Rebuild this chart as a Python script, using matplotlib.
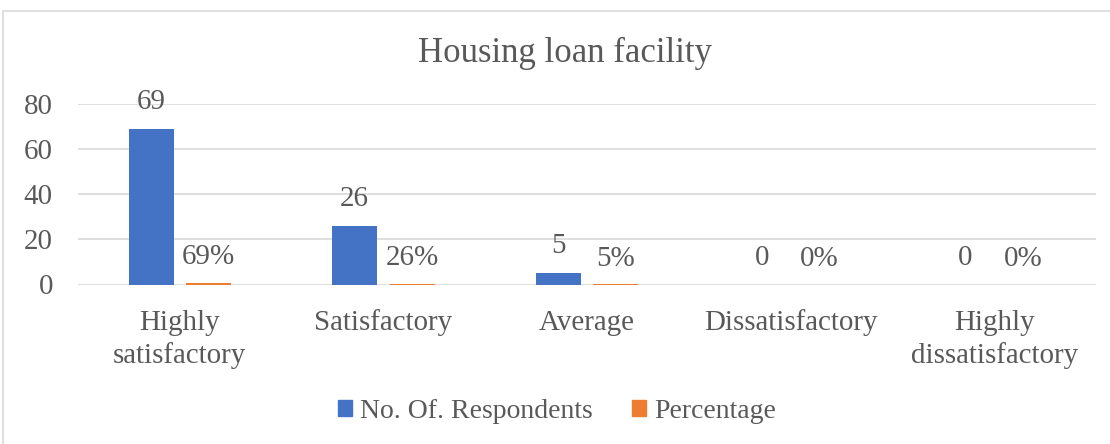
import matplotlib
matplotlib.use("Agg")
import matplotlib.pyplot as plt
from matplotlib.patches import Rectangle, Patch
import numpy as np

categories = ["Highly\nsatisfactory", "Satisfactory", "Average", "Dissatisfactory", "Highly\ndissatisfactory"]
respondents = [69, 26, 5, 0, 0]
percentage = [0.69, 0.26, 0.05, 0.0, 0.0]
percentage_labels = ["69%", "26%", "5%", "0%", "0%"]
yticks = [0, 20, 40, 60, 80]
title = "Housing loan facility"
series_names = ["No. Of. Respondents", "Percentage"]

BLUE = "#4472C4"
ORANGE = "#ED7D31"
TEXT = "#595959"
GRID = "#D9D9D9"
FONT = "Liberation Serif"
FS = 20.9
LFS = 20.0

plt.rcParams['font.family'] = [FONT, 'DejaVu Serif']

W, H = 1110, 444
fig = plt.figure(figsize=(W / 100, H / 100), dpi=100)

# chart border (only top/left visible in reference)
fig.patches.append(Rectangle((3 / W, -0.2), 1.5, 1 - 11 / H + 0.2, transform=fig.transFigure,
                             fill=False, edgecolor=GRID, linewidth=1.2))

left, right = 78 / W, 1096 / W
bottom, top = 1 - 284.5 / H, 1 - 104 / H
ax = fig.add_axes([left, bottom, right - left, top - bottom])

x = np.arange(len(categories))
bw = 0.221
off = 0.141
b1 = ax.bar(x - off, respondents, bw, color=BLUE, zorder=3)
b2 = ax.bar(x + off, percentage, bw, color=ORANGE, zorder=3)

for rect, v in zip(b1, respondents):
    ax.annotate(f"{v}", (rect.get_x() + rect.get_width() / 2, rect.get_height()),
                xytext=(0, 10), textcoords="offset points", ha="center", va="bottom",
                fontsize=FS, color=TEXT, family=FONT)
for rect, lab in zip(b2, percentage_labels):
    ax.annotate(lab, (rect.get_x() + rect.get_width() / 2, rect.get_height()),
                xytext=(0, 9), textcoords="offset points", ha="center", va="bottom",
                fontsize=FS, color=TEXT, family=FONT)

ax.set_xlim(-0.5, len(categories) - 0.5)
ax.set_ylim(0, 80)
ax.set_yticks(yticks)
ax.set_yticklabels([str(t) for t in yticks], fontsize=FS, color=TEXT, family=FONT)
ax.set_xticks(x)
ax.set_xticklabels(categories, fontsize=FS, color=TEXT, family=FONT, linespacing=1.3, va="top")
ax.tick_params(axis="both", length=0)
ax.tick_params(axis="x", pad=18)
ax.tick_params(axis="y", pad=18)
ax.grid(axis="y", color=GRID, linewidth=1.2, zorder=0)
for s in ax.spines.values():
    s.set_visible(False)

fig.text(565 / W, 1 - 53 / H, title, ha="center", va="center", fontsize=25, color=TEXT, family=FONT)

handles = [Patch(facecolor=BLUE, edgecolor=BLUE), Patch(facecolor=ORANGE, edgecolor=ORANGE)]
leg = fig.legend(handles, series_names, loc="center", bbox_to_anchor=(557 / W, 1 - 411 / H),
                 ncol=2, frameon=False, handlelength=0.5, handleheight=0.5,
                 handletextpad=0.3, columnspacing=1.4, labelcolor=TEXT,
                 prop={'family': FONT, 'size': LFS})

fig.savefig("out.png", dpi=100, facecolor="white")
